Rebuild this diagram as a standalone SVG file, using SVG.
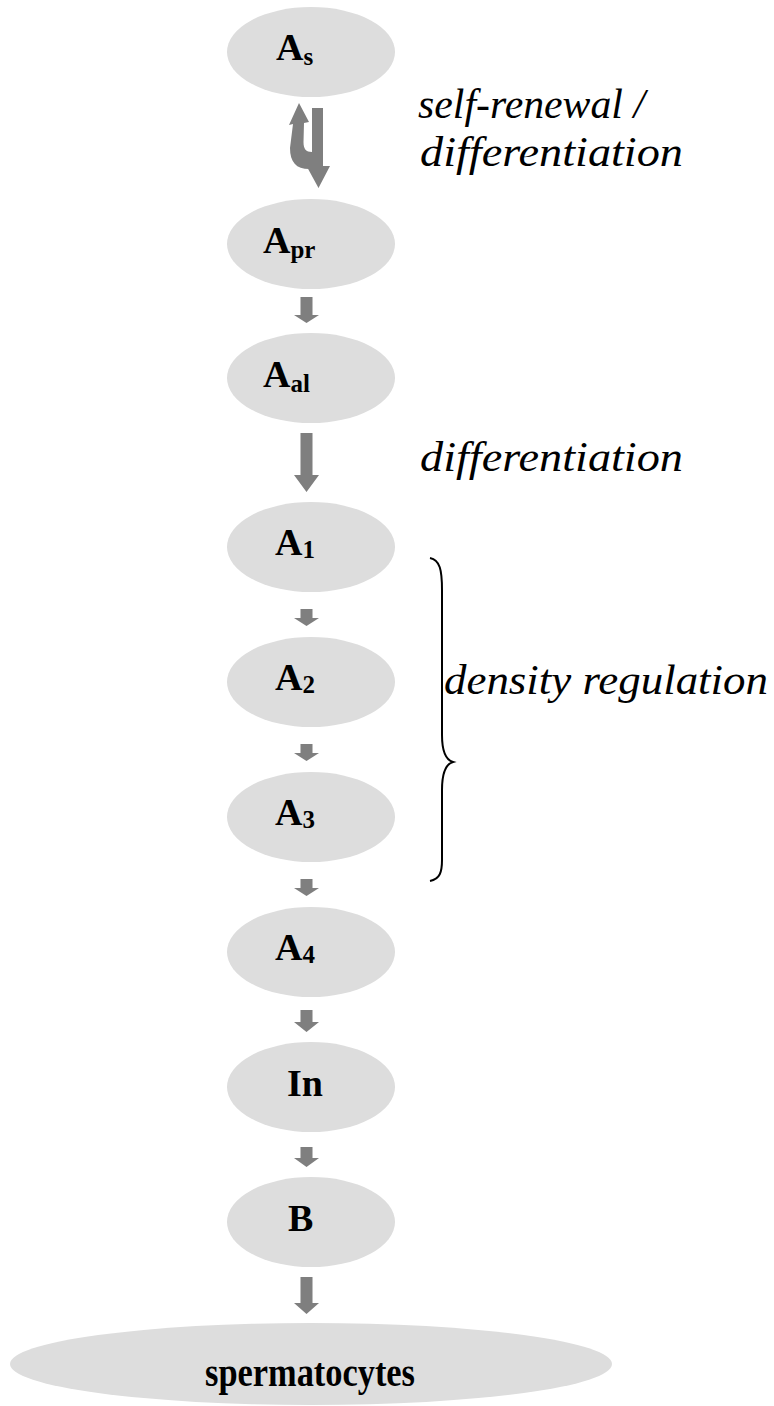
<svg xmlns="http://www.w3.org/2000/svg" width="774" height="1406" viewBox="0 0 774 1406">
<style>
.node{fill:#dddddd}
.lbl{font-family:"Liberation Serif","Times New Roman",serif;font-weight:bold;fill:#000}
.big{font-size:38px}
.sub{font-size:25px}
.note{font-family:"Liberation Serif","Times New Roman",serif;font-style:italic;font-size:42px;fill:#000}
.arr{fill:#7f7f7f}
</style>
<g id="connectors">
<path class="arr" d="M312,108 H323 V166 H330 L318.5,188 L306.5,166 H312 Z"/>
<path class="arr" d="M289,125 L299,103 L309,122 L304,123 L303.5,142 C303.5,149 306,152 312,152 L312,169 C297,170 290,163 290,148 L293,124 Z"/>
<path class="arr" d="M300.5,297 H312.5 V315 H319 L306.5,323 L294,315 H300.5 Z"/>
<path class="arr" d="M300.5,433 H312.5 V475 H319 L306.5,492 L294,475 H300.5 Z"/>
<path class="arr" d="M300.5,609 H312.5 V618 H319 L306.5,626 L294,618 H300.5 Z"/>
<path class="arr" d="M300.5,744 H312.5 V753 H319 L306.5,761 L294,753 H300.5 Z"/>
<path class="arr" d="M300.5,879 H312.5 V888 H319 L306.5,896 L294,888 H300.5 Z"/>
<path class="arr" d="M300.5,1010 H312.5 V1022 H319 L306.5,1032 L294,1022 H300.5 Z"/>
<path class="arr" d="M300.5,1147 H312.5 V1158 H319 L306.5,1167 L294,1158 H300.5 Z"/>
<path class="arr" d="M300.5,1277 H312.5 V1303 H319 L306.5,1314 L294,1303 H300.5 Z"/>
</g>
<g id="As"><ellipse class="node" cx="311" cy="52" rx="84" ry="45"/><text class="lbl" x="276" y="60"><tspan class="big">A</tspan><tspan class="sub" dy="5">s</tspan></text></g>
<g id="Apr"><ellipse class="node" cx="311" cy="244" rx="84" ry="45"/><text class="lbl" x="263" y="253"><tspan class="big">A</tspan><tspan class="sub" dy="5">pr</tspan></text></g>
<g id="Aal"><ellipse class="node" cx="311" cy="378" rx="84" ry="45"/><text class="lbl" x="263" y="387"><tspan class="big">A</tspan><tspan class="sub" dy="5">al</tspan></text></g>
<g id="A1"><ellipse class="node" cx="311" cy="547" rx="84" ry="45"/><text class="lbl" x="275" y="555"><tspan class="big">A</tspan><tspan class="sub" dy="3">1</tspan></text></g>
<g id="A2"><ellipse class="node" cx="311" cy="682" rx="84" ry="45"/><text class="lbl" x="275" y="690"><tspan class="big">A</tspan><tspan class="sub" dy="3">2</tspan></text></g>
<g id="A3"><ellipse class="node" cx="311" cy="817" rx="84" ry="45"/><text class="lbl" x="275" y="825"><tspan class="big">A</tspan><tspan class="sub" dy="3">3</tspan></text></g>
<g id="A4"><ellipse class="node" cx="311" cy="952" rx="84" ry="45"/><text class="lbl" x="275" y="960"><tspan class="big">A</tspan><tspan class="sub" dy="3">4</tspan></text></g>
<g id="In"><ellipse class="node" cx="311" cy="1087" rx="84" ry="45"/><text class="lbl big" x="287" y="1096">In</text></g>
<g id="B"><ellipse class="node" cx="311" cy="1222" rx="84" ry="45"/><text class="lbl big" x="288" y="1231">B</text></g>
<g id="spermatocytes"><ellipse class="node" cx="311" cy="1364" rx="301" ry="41"/><text class="lbl" x="205" y="1386" font-size="40" textLength="210" lengthAdjust="spacingAndGlyphs">spermatocytes</text></g>
<g id="labels">
<text class="note" x="418" y="118" textLength="227" lengthAdjust="spacingAndGlyphs">self-renewal /</text>
<text class="note" x="420" y="166" textLength="263" lengthAdjust="spacingAndGlyphs">differentiation</text>
<text class="note" x="420" y="471" textLength="263" lengthAdjust="spacingAndGlyphs">differentiation</text>
<text class="note" x="444" y="694" textLength="324" lengthAdjust="spacingAndGlyphs">density regulation</text>
</g>
<path id="brace" d="M430,558 C440,560 442,570 442,590 V735 C442,752 446,760 453,762 C446,764 442,772 442,790 V860 C442,872 440,879 430,881" fill="none" stroke="#000" stroke-width="2"/>
</svg>
